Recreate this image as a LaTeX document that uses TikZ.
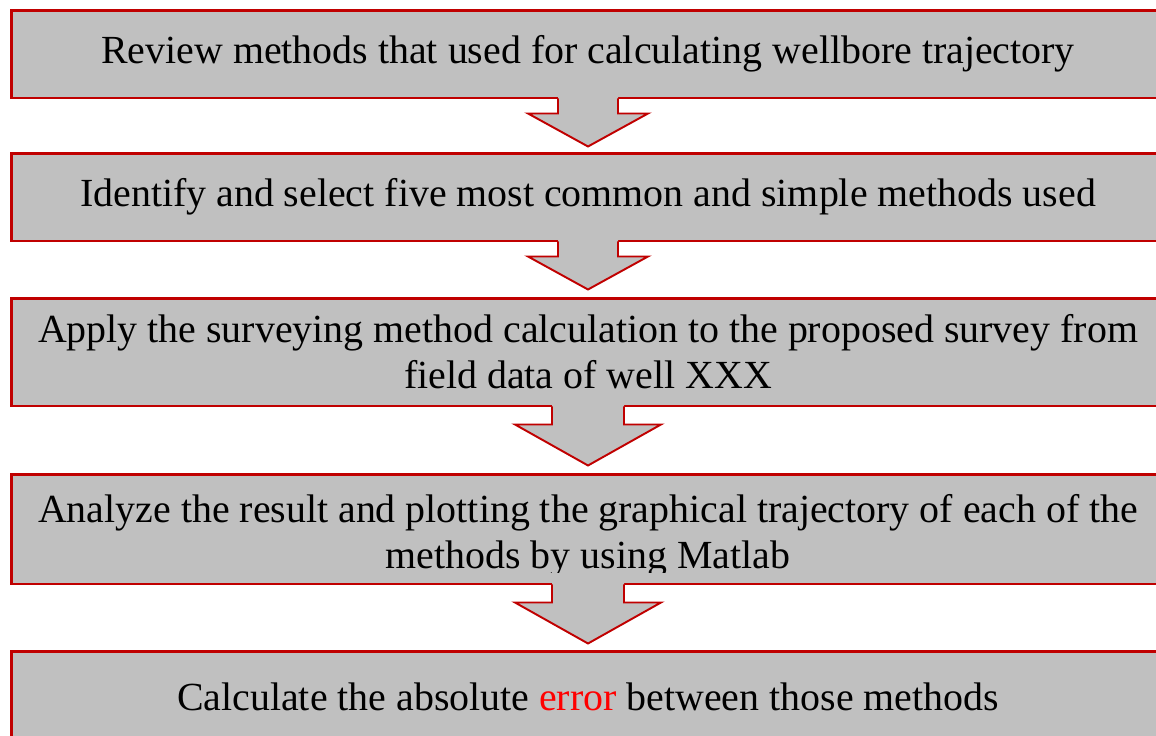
\documentclass[tikz,border=0pt]{standalone}
\usepackage{fontspec}
\setmainfont{Liberation Serif}
\definecolor{boxgray}{RGB}{192,192,192}
\definecolor{boxred}{RGB}{192,0,0}
\tikzset{
  stepbox/.style={draw=boxred, line width=1.7pt, fill=boxgray, inner sep=0pt,
    minimum width=23.08cm, align=center, font=\fontsize{22.7pt}{26.2pt}\selectfont},
}
% block arrow hanging below a box: node, shaft half width, head half width, shaft length, head length
\newcommand{\flowarrow}[5]{%
  \fill[boxgray] (#1.south) ++(-#2,-4) -- ++(0,#4+4) -- ++(#2-#3,0) -- ++(#3,#5)
    -- ++(#3,-#5) -- ++(#2-#3,0) -- ++(0,-#4-4) -- cycle;
  \draw[boxred, line width=1.1pt] (#1.south) ++(-#2,-1) -- ++(0,#4+1) -- ++(#2-#3,0)
    -- ++(#3,#5) -- ++(#3,-#5) -- ++(#2-#3,0) -- ++(0,-#4-1);
}

\begin{document}
\begin{tikzpicture}[x=0.02cm, y=-0.02cm]
    \clip (0,0) rectangle (1156,735);
    \fill[white] (0,0) rectangle (1156,735);
    % the five steps
    \node[stepbox, minimum height=1.76cm] (b1) at (588,54) {Review methods that used for calculating wellbore trajectory};
    \node[stepbox, minimum height=1.76cm] (b2) at (588,197) {Identify and select five most common and simple methods used};
    \node[stepbox, minimum height=2.16cm] (b3) at (588,352) {Apply the surveying method calculation to the proposed survey from\\field data of well XXX};
    \node[stepbox, minimum height=2.2cm] (b4) at (588,529) {};
    \begin{scope}
        \clip (b4.north west) rectangle (1156,572);
        \node[stepbox, draw=none, fill=none, minimum width=0pt] (t4) at (588,536) {Analyze the result and plotting the graphical trajectory of each of the\\methods by using Matlab};
    \end{scope}
    \node[stepbox, minimum height=1.84cm] (b5) at (588,697) {Calculate the absolute \textcolor{red}{error} between those methods};
    % arrows between steps
    \flowarrow{b1}{30}{60}{14}{33}
    \flowarrow{b2}{30}{60}{14}{33}
    \flowarrow{b3}{36}{73}{17}{41}
    \flowarrow{b4}{36}{73}{17}{41}
\end{tikzpicture}
\end{document}
